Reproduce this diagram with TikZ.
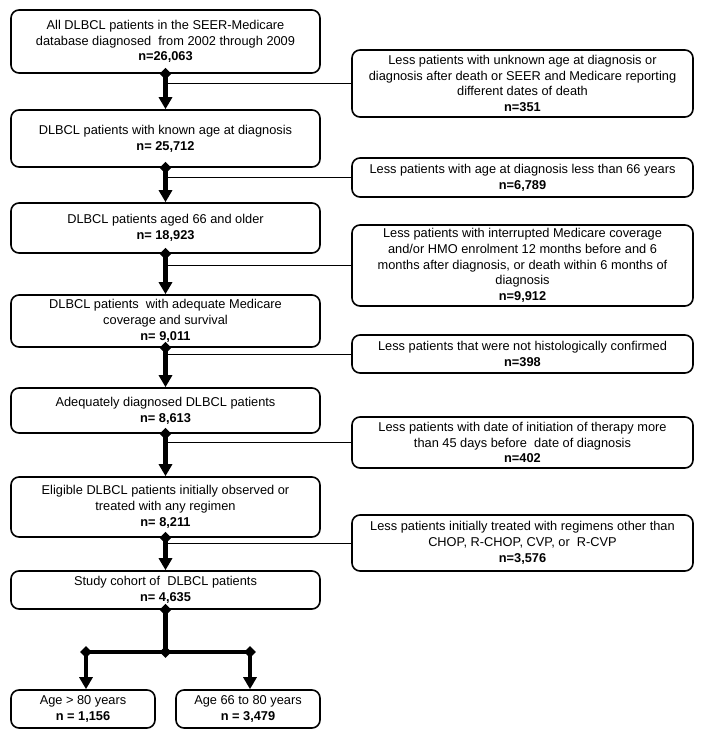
\documentclass[tikz,border=0pt]{standalone}
\usepackage{fontspec}
\setmainfont{Liberation Sans}
\usetikzlibrary{arrows.meta,shapes.geometric}
\begin{document}
\begin{tikzpicture}[x=1pt,y=-1pt,
 box/.style={draw, line width=1.6pt, rounded corners=8pt, align=center, inner sep=0pt, font=\fontsize{12.8}{15.8}\selectfont},
 lbox/.style={box, minimum width=309pt},
 rbox/.style={box, minimum width=341pt},
 sbox/.style={box, minimum width=144pt},
 flow/.style={line width=4.3pt, -{Triangle[width=13pt,length=12pt]}},
 bar/.style={line width=4.3pt},
 side/.style={line width=1pt},
 dia/.style={diamond, fill=black, inner sep=0pt, minimum width=12pt, minimum height=12pt}]
\useasboundingbox (0,0) rectangle (704,740);
% main column
\node[lbox, minimum height=63pt] (L1) at (165.5,41.5) {All DLBCL patients in the SEER-Medicare\\database diagnosed\ \ from 2002 through 2009\\\textbf{n=26,063}};
\node[lbox, minimum height=57pt] (L2) at (165.5,138.5) {DLBCL patients with known age at diagnosis\\\textbf{n= 25,712}};
\node[lbox, minimum height=50pt] (L3) at (165.5,228) {DLBCL patients aged 66 and older\\\textbf{n= 18,923}};
\node[lbox, minimum height=52pt] (L4) at (165.5,321) {DLBCL patients\ \ with adequate Medicare\\coverage and survival\\\textbf{n= 9,011}};
\node[lbox, minimum height=45pt] (L5) at (165.5,410.5) {Adequately diagnosed DLBCL patients\\\textbf{n= 8,613}};
\node[lbox, minimum height=60pt] (L6) at (165.5,507) {Eligible DLBCL patients initially observed or\\treated with any regimen\\\textbf{n= 8,211}};
\node[lbox, minimum height=38pt] (L7) at (165.5,590) {Study cohort of\ \ DLBCL patients\\\textbf{n= 4,635}};
\node[sbox, minimum height=38pt] (B1) at (83,709) {Age > 80 years\\\textbf{n = 1,156}};
\node[sbox, minimum height=38pt] (B2) at (248,709) {Age 66 to 80 years\\\textbf{n = 3,479}};
% exclusion boxes
\node[rbox, minimum height=67pt] (R1) at (522.5,83.5) {Less patients with unknown age at diagnosis or\\diagnosis after death or SEER and Medicare reporting\\different dates of death\\\textbf{n=351}};
\node[rbox, minimum height=39pt] (R2) at (522.5,177.5) {Less patients with age at diagnosis less than 66 years\\\textbf{n=6,789}};
\node[rbox, minimum height=81pt] (R3) at (522.5,265.5) {Less patients with interrupted Medicare coverage\\and/or HMO enrolment 12 months before and 6\\months after diagnosis, or death within 6 months of\\diagnosis\\\textbf{n=9,912}};
\node[rbox, minimum height=38pt] (R4) at (522.5,354) {Less patients that were not histologically confirmed\\\textbf{n=398}};
\node[rbox, minimum height=51pt] (R5) at (522.5,442.5) {Less patients with date of initiation of therapy more\\than 45 days before\ \ date of diagnosis\\\textbf{n=402}};
\node[rbox, minimum height=56pt] (R6) at (522.5,543) {Less patients initially treated with regimens other than\\CHOP, R-CHOP, CVP, or\ \ R-CVP\\\textbf{n=3,576}};
% side lines
\foreach \a/\r in {L1/R1,L2/R2,L3/R3,L4/R4,L5/R5,L6/R6}
  \draw[side] (\r.west -| \a.south) -- (\r.west);
% main arrows
\foreach \a/\b in {L1/L2,L2/L3,L3/L4,L4/L5,L5/L6,L6/L7}
  \draw[flow] (\a.south) -- (\b.north);
% split
\coordinate (jc) at (165.5,652);
\coordinate (jl) at (86,652);
\coordinate (jr) at (250,652);
\draw[bar] (L7.south) -- (jc);
\draw[bar] (jl) -- (jr);
\draw[flow] (jl) -- (jl |- B1.north);
\draw[flow] (jr) -- (jr |- B2.north);
% diamonds
\foreach \a in {L1,L2,L3,L4,L5,L6,L7}
  \node[dia] (d\a) at (\a.south) {};
\node[dia] (djc) at (jc) {};
\node[dia] (djl) at (jl) {};
\node[dia] (djr) at (jr) {};
\end{tikzpicture}
\end{document}
